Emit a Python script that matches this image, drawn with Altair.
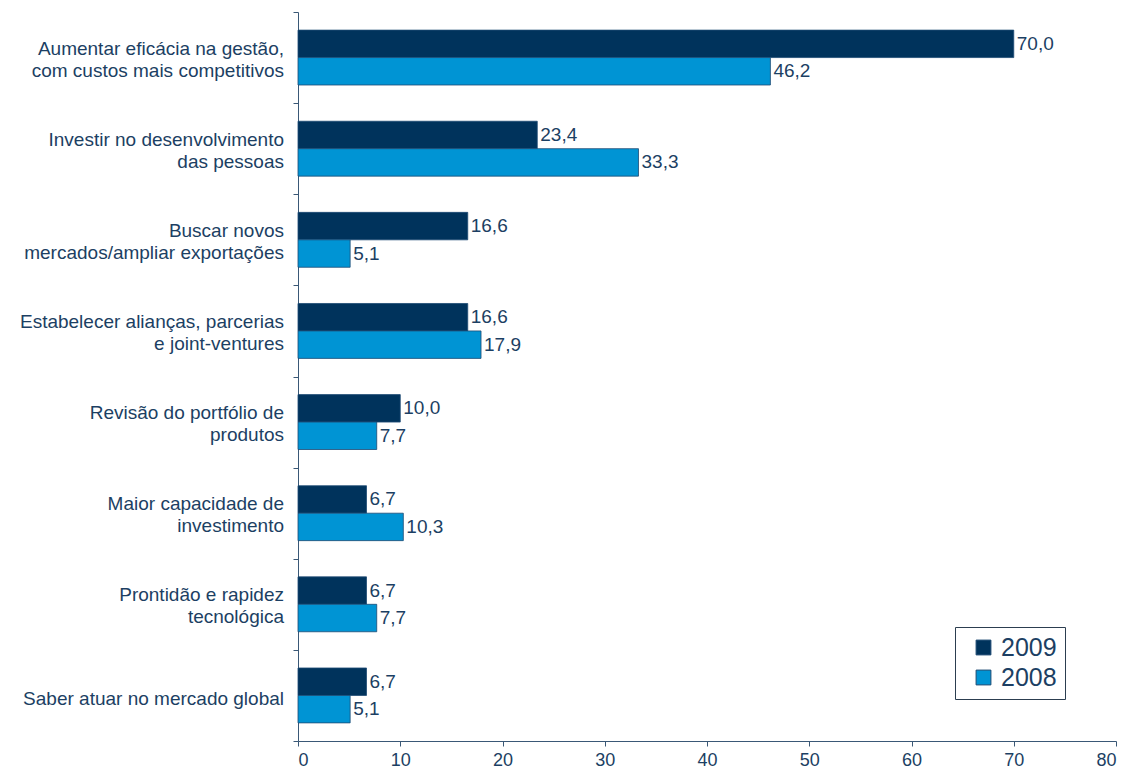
import altair as alt
import pandas as pd

categories = [
    "Aumentar eficácia na gestão, com custos mais competitivos",
    "Investir no desenvolvimento das pessoas",
    "Buscar novos mercados/ampliar exportações",
    "Estabelecer alianças, parcerias e joint-ventures",
    "Revisão do portfólio de produtos",
    "Maior capacidade de investimento",
    "Prontidão e rapidez tecnológica",
    "Saber atuar no mercado global",
]
line1 = [
    "Aumentar eficácia na gestão,",
    "Investir no desenvolvimento",
    "Buscar novos",
    "Estabelecer alianças, parcerias",
    "Revisão do portfólio de",
    "Maior capacidade de",
    "Prontidão e rapidez ",
    "",
]
line2 = [
    "com custos mais competitivos",
    "das pessoas",
    "mercados/ampliar exportações",
    "e joint-ventures",
    "produtos",
    "investimento",
    "tecnológica",
    "",
]
single = ["", "", "", "", "", "", "", "Saber atuar no mercado global"]

years = ["2009", "2008"]
v2009 = [70.0, 23.4, 16.6, 16.6, 10.0, 6.7, 6.7, 6.7]
v2008 = [46.2, 33.3, 5.1, 17.9, 7.7, 10.3, 7.7, 5.1]
x_ticks = [0, 10, 20, 30, 40, 50, 60, 70, 80]

rows = []
for c, a, b in zip(categories, v2009, v2008):
    rows.append({"cat": c, "year": "2009", "value": a})
    rows.append({"cat": c, "year": "2008", "value": b})
df = pd.DataFrame(rows)
lab_df = pd.DataFrame({"cat": categories, "l1": line1, "l2": line2, "s": single})

TXT = "#1c3f63"
AX = "#3a5876"
FONT = "Liberation Sans"

yenc = alt.Y("cat:N", sort=categories, title=None,
             scale=alt.Scale(paddingInner=0, paddingOuter=0),
             axis=alt.Axis(labels=False, tickBand="extent", tickSize=5, tickColor=AX,
                           domainColor=AX))
xenc = alt.X("value:Q", title=None,
             scale=alt.Scale(domain=[0, 80], nice=False),
             axis=alt.Axis(values=x_ticks, labelFontSize=18, labelColor=TXT, labelFont=FONT,
                           tickColor=AX, domainColor=AX, tickSize=5, grid=False, labelPadding=5))

base = alt.Chart(df).encode(
    y=yenc,
    yOffset=alt.YOffset("year:N", sort=years,
                        scale=alt.Scale(domain=years, paddingInner=0, paddingOuter=0.66)),
)

bars = base.mark_bar(stroke="#1d4a73", strokeWidth=0.8).encode(
    x=xenc,
    color=alt.Color("year:N", sort=years,
                    scale=alt.Scale(domain=years, range=["#00335c", "#0094d4"]),
                    legend=alt.Legend(title=None, orient="none", legendX=657, legendY=615,
                                      fillColor="white", strokeColor="#2c3e50", padding=8,
                                      symbolType="square", symbolSize=220, symbolStrokeColor="#1d4a73",
                                      symbolStrokeWidth=1, labelFontSize=25, labelFont=FONT,
                                      labelColor=TXT, rowPadding=4, symbolOffset=8,
                                      labelOffset=5)),
)

values = base.mark_text(align="left", baseline="middle", dx=3, fontSize=19,
                        font=FONT, color=TXT).transform_calculate(
    lab="replace(format(datum.value, '.1f'), '.', ',')"
).encode(x="value:Q", text="lab:N")

lab_base = alt.Chart(lab_df).encode(y=alt.Y("cat:N", sort=categories), x=alt.datum(0))
txt_kw = dict(align="right", baseline="middle", dx=-14, fontSize=19, font=FONT, color=TXT)
cat1 = lab_base.mark_text(dy=-9, **txt_kw).encode(text="l1:N")
cat2 = lab_base.mark_text(dy=13, **txt_kw).encode(text="l2:N")
cat3 = lab_base.mark_text(dy=4, **txt_kw).encode(text="s:N")

chart = alt.layer(bars, values, cat1, cat2, cat3).properties(
    width=818, height=729,
    autosize=alt.AutoSizeParams(type="none"),
    padding={"left": 290, "top": 4, "right": 10, "bottom": 30},
).configure_view(stroke=None).configure_axis(grid=False)

chart.save("out.html", embed_options={"renderer": "svg", "actions": False})
